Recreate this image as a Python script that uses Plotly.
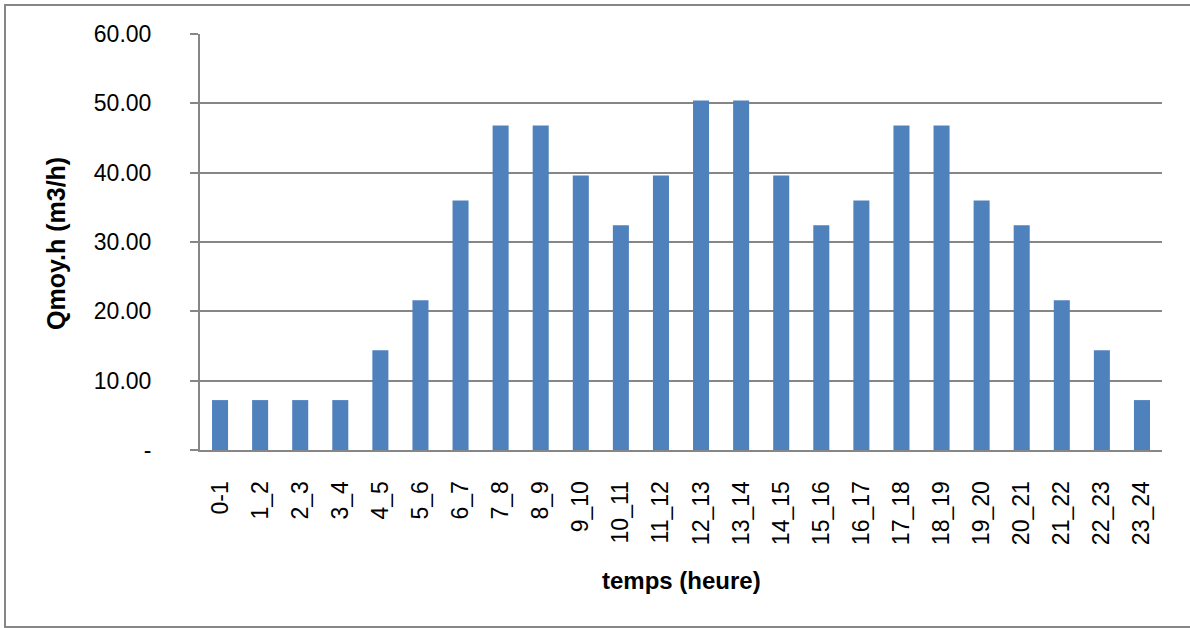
import plotly.graph_objects as go

# Hourly time slots and mean hourly flow (m3/h)
periods = ["0-1", "1_2", "2_3", "3_4", "4_5", "5_6", "6_7", "7_8", "8_9", "9_10",
           "10_11", "11_12", "12_13", "13_14", "14_15", "15_16", "16_17", "17_18",
           "18_19", "19_20", "20_21", "21_22", "22_23", "23_24"]
q_moy_h = [7.2, 7.2, 7.2, 7.2, 14.4, 21.6, 36.0, 46.8, 46.8, 39.6,
           32.4, 39.6, 50.4, 50.4, 39.6, 32.4, 36.0, 46.8,
           46.8, 36.0, 32.4, 21.6, 14.4, 7.2]

y_tickvals = [0, 10, 20, 30, 40, 50, 60]
y_ticktext = ["-", "10.00", "20.00", "30.00", "40.00", "50.00", "60.00"]

GRID = "#868686"
FONT = "Liberation Sans, Arial, sans-serif"

fig = go.Figure(
    go.Bar(
        x=periods,
        y=q_moy_h,
        marker=dict(color="#4F81BD", line=dict(width=0)),
    )
)

fig.update_layout(
    width=1190,
    height=628,
    margin=dict(l=200, r=28, t=34, b=178),
    paper_bgcolor="white",
    plot_bgcolor="white",
    bargap=0.6,
    showlegend=False,
    font=dict(family=FONT, size=23, color="black"),
)

fig.update_xaxes(
    type="category",
    tickangle=-90,
    showline=True,
    linecolor=GRID,
    linewidth=2,
    ticks="",
    showgrid=False,
    ticklabelstandoff=20,
    tickfont=dict(size=23),
)

fig.update_yaxes(
    range=[0, 60],
    tickvals=y_tickvals,
    ticktext=y_ticktext,
    showline=True,
    linecolor=GRID,
    linewidth=2,
    showgrid=True,
    gridcolor=GRID,
    gridwidth=1.5,
    ticks="outside",
    ticklen=8,
    tickcolor=GRID,
    tickwidth=1.5,
    ticklabelstandoff=34,
    tickfont=dict(size=23),
    zeroline=False,
)

# Axis titles
fig.add_annotation(
    text="<b>Qmoy.h (m3/h)</b>", textangle=-90,
    xref="paper", yref="paper", x=-0.1497, y=0.4976,
    xanchor="center", yanchor="middle",
    showarrow=False, font=dict(size=25),
)
fig.add_annotation(
    text="<b>temps (heure)</b>",
    xref="paper", yref="paper", x=0.5, y=-0.3125,
    xanchor="center", yanchor="middle",
    showarrow=False, font=dict(size=24),
)

# Outer frame of the chart area
fig.add_shape(
    type="rect", xref="paper", yref="paper",
    x0=-0.2027, x1=1.08, y0=-0.4255, y1=1.0697,
    line=dict(color=GRID, width=2), fillcolor="rgba(0,0,0,0)",
    layer="below",
)

fig.write_html("out.html")
